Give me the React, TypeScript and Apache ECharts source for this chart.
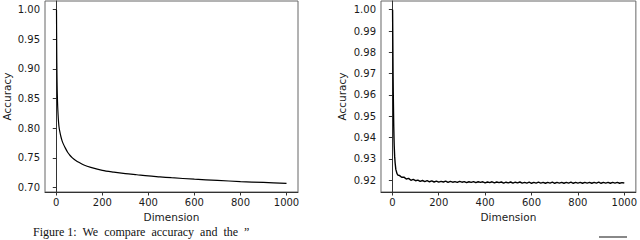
import React, { useEffect, useRef } from "react";
import * as echarts from "echarts";

// Left panel: accuracy vs dimension
const leftDims = [1, 2, 3, 4, 5, 6, 8, 10, 12, 15, 20, 25, 30, 40, 50, 60, 70, 80, 100, 120, 150, 200, 250, 300, 350, 400, 450, 500, 600, 700, 800, 900, 1000];
const leftAcc = [1.0, 0.93, 0.89, 0.865, 0.85, 0.838, 0.822, 0.81, 0.802, 0.795, 0.786, 0.779, 0.774, 0.766, 0.759, 0.754, 0.75, 0.747, 0.742, 0.738, 0.734, 0.729, 0.726, 0.7235, 0.7215, 0.7195, 0.718, 0.7165, 0.714, 0.712, 0.71, 0.7085, 0.707];

// Right panel: accuracy vs dimension (noisy plateau)
const rightHeadDims = [1, 2, 3, 4, 5, 6, 7, 8, 10, 12, 15, 20, 25];
const rightHeadAcc = [1.0, 0.985, 0.97, 0.96, 0.952, 0.945, 0.94, 0.936, 0.931, 0.928, 0.925, 0.923, 0.9222];
const rightTailStart = 30;
const rightTailStep = 10;
const rightTailAcc = [
  0.9222, 0.9213, 0.9214, 0.9205, 0.9208, 0.9199, 0.9203, 0.9197, 0.92, 0.9194,
  0.9198, 0.9193, 0.9197, 0.9192, 0.9196, 0.9191, 0.9195, 0.919, 0.9194, 0.9191,
  0.9195, 0.9189, 0.9194, 0.919, 0.9193, 0.9189, 0.9194, 0.919, 0.9193, 0.9188,
  0.9192, 0.9189, 0.9193, 0.9188, 0.9192, 0.9189, 0.9192, 0.9187, 0.9191, 0.9188,
  0.9192, 0.9187, 0.9191, 0.9188, 0.9191, 0.9186, 0.919, 0.9187, 0.9191, 0.9186,
  0.919, 0.9187, 0.9191, 0.9186, 0.9189, 0.9186, 0.919, 0.9185, 0.9189, 0.9186,
  0.919, 0.9186, 0.9189, 0.9185, 0.9189, 0.9186, 0.919, 0.9185, 0.9189, 0.9186,
  0.9189, 0.9185, 0.9189, 0.9186, 0.919, 0.9185, 0.9189, 0.9186, 0.9189, 0.9185,
  0.9189, 0.9186, 0.9189, 0.9185, 0.9189, 0.9186, 0.919, 0.9185, 0.9189, 0.9186,
  0.9189, 0.9185, 0.9189, 0.9186, 0.9189, 0.9185, 0.9188, 0.9186,
];

const xTicks = [0, 200, 400, 600, 800, 1000];
const leftYTicks = [0.7, 0.75, 0.8, 0.85, 0.9, 0.95, 1.0];
const rightYTicks = [0.92, 0.93, 0.94, 0.95, 0.96, 0.97, 0.98, 0.99, 1.0];

const captionText = "Figure 1:  We  compare  accuracy  and  the  \u201D";

export default function App() {
  const ref = useRef<HTMLDivElement>(null);
  useEffect(() => {
    document.body.style.margin = "0";
    if (!ref.current) return;
    const chart = echarts.init(ref.current, null, { renderer: "svg" });
    const font = "DejaVu Sans";
    const textColor = "#1a1a1a";
    const axisLine = { show: true, lineStyle: { color: "#333", width: 1 } };

    const leftData = leftDims.map((d, i) => [d, leftAcc[i]]);
    const rightData = rightHeadDims.map((d, i) => [d, rightHeadAcc[i]]);
    rightTailAcc.forEach((v, i) => rightData.push([rightTailStart + i * rightTailStep, v]));

    const xAxisBase = (gridIndex: number) => ({
      type: "value",
      gridIndex,
      min: -48.95,
      max: 1049.95,
      name: "Dimension",
      nameLocation: "middle",
      nameGap: 16,
      nameTextStyle: { fontFamily: font, fontSize: 10.5, color: textColor },
      axisLine,
      splitLine: { show: false },
      axisTick: { show: true, length: 3.5, customValues: xTicks, lineStyle: { color: "#333" } },
      axisLabel: {
        customValues: xTicks,
        fontFamily: font,
        fontSize: 10,
        color: textColor,
        margin: 5,
        formatter: (v: number) => String(Math.round(v)),
      },
    });

    const yAxisBase = (gridIndex: number, min: number, max: number, ticks: number[], gap: number) => ({
      type: "value",
      gridIndex,
      min,
      max,
      name: "Accuracy",
      nameLocation: "middle",
      nameGap: gap,
      nameTextStyle: { fontFamily: font, fontSize: 10.5, color: textColor },
      axisLine,
      splitLine: { show: false },
      axisTick: { show: true, length: 3.5, customValues: ticks, lineStyle: { color: "#333" } },
      axisLabel: {
        customValues: ticks,
        fontFamily: font,
        fontSize: 10,
        color: textColor,
        margin: 5,
        formatter: (v: number) => v.toFixed(2),
      },
    });

    chart.setOption({
      animation: false,
      backgroundColor: "#ffffff",
      grid: [
        { left: 42, top: 1, width: 256, height: 191, show: true, borderColor: "#666", borderWidth: 1, backgroundColor: "transparent" },
        { left: 381, top: 1, width: 256, height: 191, show: true, borderColor: "#666", borderWidth: 1, backgroundColor: "transparent" },
      ],
      xAxis: [xAxisBase(0), xAxisBase(1)],
      yAxis: [
        yAxisBase(0, 0.6924, 1.0146, leftYTicks, 33),
        yAxisBase(1, 0.9144, 1.0041, rightYTicks, 34),
      ],
      series: [
        {
          type: "line",
          xAxisIndex: 0,
          yAxisIndex: 0,
          data: leftData,
          showSymbol: false,
          smooth: 0.3,
          lineStyle: { color: "#000", width: 1.2 },
        },
        {
          type: "line",
          xAxisIndex: 1,
          yAxisIndex: 1,
          data: rightData,
          showSymbol: false,
          lineStyle: { color: "#000", width: 1.4 },
        },
      ],
      graphic: [
        {
          type: "text",
          left: 33,
          top: 226,
          style: {
            text: captionText,
            font: "12px 'Liberation Serif'",
            fill: "#111",
          },
        },
        {
          type: "rect",
          shape: { x: 599, y: 236, width: 28, height: 2 },
          style: { fill: "#888" },
        },
      ],
    });
    return () => chart.dispose();
  }, []);
  return <div ref={ref} style={{ position: "fixed", left: 0, top: 0, width: 640, height: 240 }} />;
}
